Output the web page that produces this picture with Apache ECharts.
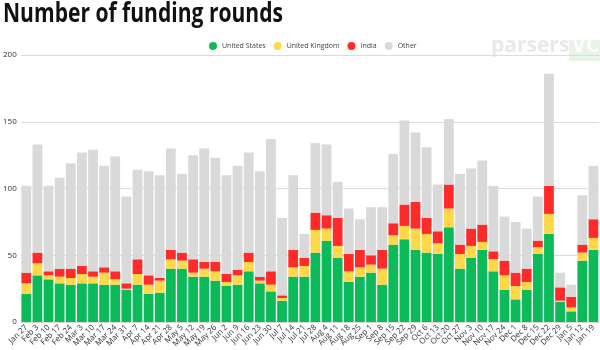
<!DOCTYPE html>
<html><head><meta charset="utf-8">
<script src="https://cdn.jsdelivr.net/npm/echarts@6/dist/echarts.min.js"></script>
<style>html,body{margin:0;padding:0;background:#fff}#c{width:600px;height:350px}</style>
</head><body><div id="c"></div>
<script>
const categories = ["Jan 27","Feb 3","Feb 10","Feb 17","Feb 24","Mar 3","Mar 10","Mar 17","Mar 24","Mar 31","Apr 7","Apr 14","Apr 21","Apr 28","May 5","May 12","May 19","May 26","Jun 2","Jun 9","Jun 16","Jun 23","Jun 30","Jul 7","Jul 14","Jul 21","Jul 28","Aug 4","Aug 11","Aug 18","Aug 25","Sep 1","Sep 8","Sep 15","Sep 22","Sep 29","Oct 6","Oct 13","Oct 20","Oct 27","Nov 3","Nov 10","Nov 17","Nov 24","Dec 1","Dec 8","Dec 15","Dec 22","Dec 29","Jan 5","Jan 12","Jan 19"];
const unitedStates = [21,35,32,29,28,29,29,28,28,24,28,21,22,40,40,34,34,31,27,28,38,29,23,16,34,34,52,61,48,30,34,37,28,58,62,54,52,51,71,40,48,54,38,24,17,24,51,66,15,8,46,54];
const unitedKingdom = [8,9,3,5,5,7,5,9,4,1,8,7,9,7,6,3,6,7,3,7,7,2,5,2,7,8,17,9,9,8,7,6,12,7,10,16,14,8,14,11,9,6,9,11,10,6,5,15,1,3,6,9];
const india = [8,8,3,6,7,6,4,4,6,4,11,7,2,7,6,10,5,7,6,4,7,3,10,2,13,6,13,10,21,13,13,7,14,9,16,20,12,9,18,7,13,13,6,11,10,10,5,21,10,8,6,14];
const other = [65,81,64,68,79,85,91,76,86,65,67,78,77,76,59,78,85,78,74,78,75,79,99,58,56,18,52,53,27,34,23,36,32,52,63,52,53,35,49,53,45,48,49,33,38,30,33,84,11,9,37,40];
const seriesNames = ["United States","United Kingdom","India","Other"];
const titleText = "Number of funding rounds";
const yTicks = {min:0, max:200, interval:50};

const colors = ["#0dba5a","#ffd84a","#ff2b2b","#d9d9d9"];
const dataSets = [unitedStates, unitedKingdom, india, other];
const chart = echarts.init(document.getElementById('c'));
chart.setOption({
  animation:false,
  textStyle:{fontFamily:'"Open Sans", sans-serif'},
  legend:{top:37, left:204, icon:'circle', itemWidth:8, itemHeight:8, itemGap:8,
    textStyle:{fontSize:7, color:'#444'}, data:seriesNames},
  graphic:[
    {type:'text', x:3, y:2, scaleX:0.81, style:{text:titleText, fontSize:26, fontWeight:'bold', fill:'#111', fontFamily:'"Open Sans", sans-serif'}},
    {type:'text', left:491, top:36, style:{text:'parsers', fontSize:21, fontWeight:'bold', fill:'rgba(200,200,200,0.4)', fontFamily:'"Open Sans", sans-serif'}},
    {type:'rect', left:569, top:40, shape:{width:31, height:21}, style:{fill:'rgba(180,220,180,0.3)'}},
    {type:'text', left:572, top:36, style:{text:'VC', fontSize:21, fontWeight:'bold', fill:'rgba(255,255,255,0.9)', fontFamily:'"Open Sans", sans-serif'}}
  ],
  grid:{left:17, right:1, top:55, bottom:25, containLabel:false},
  xAxis:{type:'category', data:categories, axisLine:{show:false}, axisTick:{show:false},
    axisLabel:{interval:0, rotate:45, fontSize:8, color:'#333', margin:4}},
  yAxis:{type:'value', min:yTicks.min, max:yTicks.max, interval:yTicks.interval,
    axisLabel:{fontSize:8, color:'#333', margin:4},
    splitLine:{lineStyle:{color:'#dcdcdc', width:1}}},
  series: seriesNames.map((n,i)=>({name:n, type:'bar', stack:'total', data:dataSets[i],
    barCategoryGap:'12%', itemStyle:{color:colors[i]}}))
});
</script></body></html>
